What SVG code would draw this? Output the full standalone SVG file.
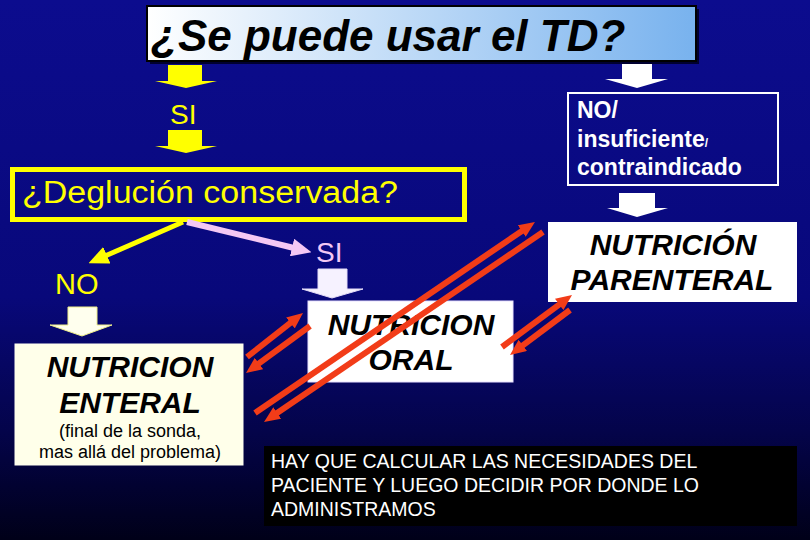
<svg xmlns="http://www.w3.org/2000/svg" width="810" height="540" viewBox="0 0 810 540">
<defs>
<linearGradient id="bg" x1="0" y1="0" x2="0" y2="1">
<stop offset="0" stop-color="#0c0c8e"/>
<stop offset="0.55" stop-color="#08087a"/>
<stop offset="0.8" stop-color="#04044a"/>
<stop offset="1" stop-color="#000018"/>
</linearGradient>
<linearGradient id="tg" x1="0" y1="0" x2="1" y2="0">
<stop offset="0" stop-color="#ffffff"/>
<stop offset="1" stop-color="#78b2ee"/>
</linearGradient>
<marker id="mr" markerUnits="userSpaceOnUse" markerWidth="18" markerHeight="14" refX="2" refY="7" orient="auto"><path d="M0,0 L16,7 L0,14 z" fill="#f23c18"/></marker>
<marker id="my" markerUnits="userSpaceOnUse" markerWidth="20" markerHeight="18" refX="2" refY="9" orient="auto"><path d="M0,0 L20,9 L0,18 z" fill="#ffff00"/></marker>
<marker id="mp" markerUnits="userSpaceOnUse" markerWidth="20" markerHeight="18" refX="2" refY="9" orient="auto"><path d="M0,0 L20,9 L0,18 z" fill="#f4c8f4"/></marker>
<style>
.t{font-family:"Liberation Sans",Arial,sans-serif}
.bi{font-weight:bold;font-style:italic;fill:#000}
.red{stroke:#f23c18;stroke-width:6;fill:none;marker-end:url(#mr)}
</style>
</defs>
<rect x="0" y="0" width="810" height="540" fill="url(#bg)"/>

<g id="title">
<rect x="150" y="9" width="549" height="55" fill="#000030"/>
<rect x="147" y="6" width="549" height="55" fill="url(#tg)" stroke="#000" stroke-width="2"/>
<text class="t bi" x="151" y="51" font-size="44">¿Se puede usar el TD?</text>
</g>

<g id="si1">
<text class="t" x="170" y="124" font-size="28" fill="#ffff00">SI</text>
</g>

<g id="no-insuf">
<rect x="568" y="93" width="210" height="92" fill="none" stroke="#fff" stroke-width="2"/>
<text class="t" x="577" y="118" font-size="23" font-weight="bold" fill="#fff">NO/</text>
<text class="t" x="577" y="147" font-size="23" font-weight="bold" fill="#fff">insuficiente<tspan font-size="12">/</tspan></text>
<text class="t" x="577" y="175" font-size="23" font-weight="bold" fill="#fff">contraindicado</text>
</g>

<g id="deglucion">
<rect x="12.5" y="169.5" width="452" height="50" fill="none" stroke="#ffff00" stroke-width="5"/>
<text class="t" x="22" y="203" font-size="31" fill="#ffff00" textLength="376" lengthAdjust="spacingAndGlyphs">¿Deglución conservada?</text>
</g>

<g id="parenteral">
<rect x="548" y="222" width="249" height="80" fill="#fff"/>
<text class="t bi" x="673" y="255" font-size="30" text-anchor="middle">NUTRICIÓN</text>
<text class="t bi" x="672" y="290" font-size="30" text-anchor="middle">PARENTERAL</text>
</g>

<g id="no2">
<text class="t" x="55" y="294" font-size="29" fill="#ffff00">NO</text>
</g>

<g id="si2">
<text class="t" x="316" y="262" font-size="28" fill="#f4c8f4">SI</text>
</g>

<g id="oral">
<rect x="308" y="301" width="205" height="81" fill="#fff" stroke="#e8e0ff" stroke-width="1"/>
<text class="t bi" x="411" y="335" font-size="30" text-anchor="middle">NUTRICION</text>
<text class="t bi" x="411" y="370" font-size="30" text-anchor="middle">ORAL</text>
</g>

<g id="enteral">
<rect x="15" y="344" width="228" height="121" fill="#ffffea" stroke="#fffff0" stroke-width="1"/>
<text class="t bi" x="130" y="377" font-size="30" text-anchor="middle">NUTRICION</text>
<text class="t bi" x="130" y="413" font-size="30" text-anchor="middle">ENTERAL</text>
<text class="t" x="130" y="437" font-size="18" text-anchor="middle" fill="#000">(final de la sonda,</text>
<text class="t" x="130" y="458" font-size="18" text-anchor="middle" fill="#000">mas allá del problema)</text>
</g>

<g id="nota">
<rect x="264" y="446" width="533" height="80" fill="#000"/>
<text class="t" x="271" y="468" font-size="19.5" fill="#fff">HAY QUE CALCULAR LAS NECESIDADES DEL</text>
<text class="t" x="271" y="492" font-size="19.5" fill="#fff">PACIENTE Y LUEGO DECIDIR POR DONDE LO</text>
<text class="t" x="271" y="516" font-size="19.5" fill="#fff">ADMINISTRAMOS</text>
</g>

<g id="connectors">
<polygon points="168,65 202,65 202,81 217,81 186,88 155,81 168,81" fill="#ffff00"/>
<polygon points="168,130 202,130 202,146 217,146 186,153 155,146 168,146" fill="#ffff00"/>
<polygon points="622,64 652,64 652,79 668,79 637,88 605,79 622,79" fill="#fff"/>
<polygon points="619,193 655,193 655,208 668,208 637,217 607,208 619,208" fill="#fff"/>
<polygon points="68,307 97,307 97,325 112,325 82,336 50,325 68,325" fill="#ffffee" stroke="#eeee88" stroke-width="1"/>
<polygon points="318,269 347,269 347,289 363,289 332,298 302,289 318,289" fill="#f6f2ff" stroke="#e4dcf8" stroke-width="1"/>
<line x1="183" y1="222" x2="105" y2="256" stroke="#ffff00" stroke-width="5" marker-end="url(#my)"/>
<line x1="187" y1="222" x2="294" y2="248" stroke="#f4c8f4" stroke-width="6" marker-end="url(#mp)"/>
<line class="red" x1="247" y1="357" x2="292" y2="321.7"/>
<line class="red" x1="310" y1="326" x2="257.3" y2="364.7"/>
<line class="red" x1="255" y1="413" x2="523.4" y2="229.9"/>
<line class="red" x1="543" y1="232" x2="275.6" y2="414.1"/>
<line class="red" x1="502" y1="347" x2="560.8" y2="303.3"/>
<line class="red" x1="570" y1="310" x2="521.2" y2="346.6"/>
</g>
</svg>
